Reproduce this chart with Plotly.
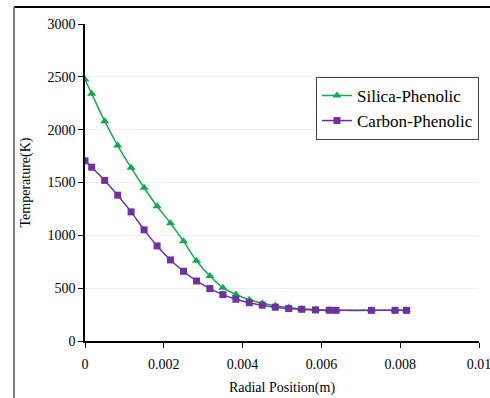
import plotly.graph_objects as go

radial_pos = [0, 0.00017, 0.0005, 0.00083, 0.00117, 0.0015, 0.00183, 0.00217, 0.0025,
              0.00283, 0.00317, 0.0035, 0.00383, 0.00417, 0.0045, 0.00483, 0.00517,
              0.0055, 0.00585, 0.0062, 0.00637, 0.00727, 0.00787, 0.00816]
silica_T = [2475, 2340, 2080, 1850, 1640, 1450, 1275, 1115, 945,
            760, 615, 505, 440, 390, 358, 335, 316,
            304, 297, 293, 291, 290, 290, 290]
carbon_T = [1705, 1645, 1520, 1380, 1222, 1052, 900, 767, 660,
            568, 496, 439, 395, 362, 339, 320, 307,
            300, 294, 291, 290, 290, 290, 290]

x_ticks = [0, 0.002, 0.004, 0.006, 0.008, 0.01]
x_ticktext = ["0", "0.002", "0.004", "0.006", "0.008", "0.01"]
y_ticks = [0, 500, 1000, 1500, 2000, 2500, 3000]

font = "Liberation Serif"
tfont = dict(family=font, size=14, color="black")

fig = go.Figure()
fig.add_trace(go.Scatter(
    x=radial_pos, y=silica_T, name="Silica-Phenolic", mode="lines+markers",
    line=dict(color="#14a850", width=1.5, shape="spline"),
    marker=dict(symbol="triangle-up", size=8, color="#14a850")))
fig.add_trace(go.Scatter(
    x=radial_pos, y=carbon_T, name="Carbon-Phenolic", mode="lines+markers",
    line=dict(color="#7030a0", width=1.5, shape="spline"),
    marker=dict(symbol="square", size=7, color="#7030a0")))

fig.update_layout(
    width=490, height=398,
    margin=dict(l=85, r=11, t=24, b=57),
    paper_bgcolor="white", plot_bgcolor="white",
    font=tfont,
    showlegend=True,
    legend=dict(x=1, xanchor="right", y=0.833, yanchor="top",
                bordercolor="#444444", borderwidth=1, bgcolor="white",
                font=dict(size=17, family=font, color="black"), itemwidth=30,
                tracegroupgap=0),
    xaxis=dict(range=[0, 0.0100001], tickvals=x_ticks, ticktext=x_ticktext,
               tickfont=tfont, ticklabelstandoff=4, automargin=False,
               ticklabeloverflow="allow",
               showgrid=False, zeroline=False, showline=True, linecolor="black",
               linewidth=1.5, ticks="outside", ticklen=5, tickcolor="black",
               title=dict(text="Radial Position(m)", font=tfont, standoff=12)),
    yaxis=dict(range=[0, 3000], tickvals=y_ticks, showgrid=True, tickfont=tfont,
               automargin=False,
               gridcolor="#f0f0f0", gridwidth=1, zeroline=False, showline=True,
               linecolor="black", linewidth=1.5, ticks="outside", ticklen=5,
               tickcolor="black",
               title=dict(text="Temperature(K)", font=tfont, standoff=14)),
    shapes=[
        dict(type="line", xref="paper", yref="paper", x0=-0.1802, x1=1.03,
             y0=1.0536, y1=1.0536, line=dict(color="black", width=2)),
        dict(type="line", xref="paper", yref="paper", x0=-0.1802, x1=-0.1802,
             y0=1.0536, y1=-0.19, line=dict(color="#808080", width=2)),
    ],
)

fig.write_html("out.html")
